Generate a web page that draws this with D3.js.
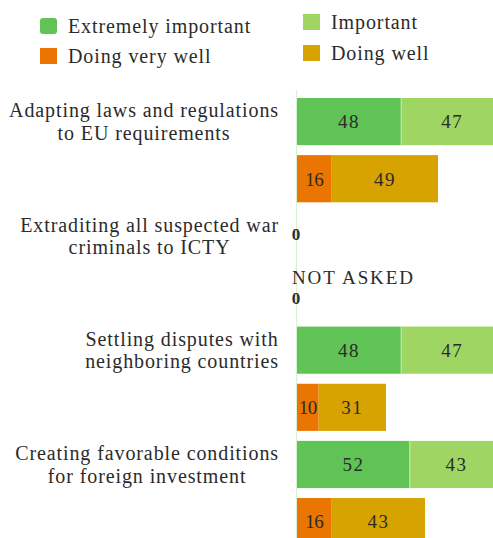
<!DOCTYPE html>
<html>
<head>
<meta charset="utf-8">
<script src="https://cdn.jsdelivr.net/npm/d3@7"></script>
<style>
  html, body { margin: 0; padding: 0; background: #fff; }
  svg { display: block; }
  text { font-family: "Liberation Serif", "DejaVu Serif", serif; fill: #2b2b2b; }
</style>
</head>
<body>
<svg id="chart" width="493" height="538"></svg>
<script>
// Survey items (each label is split into its display lines)
const categories = [
  ["Adapting laws and regulations", "to EU requirements"],
  ["Extraditing all suspected war", "criminals to ICTY"],
  ["Settling disputes with", "neighboring countries"],
  ["Creating favorable conditions", "for foreign investment"]
];
// Importance ratings (%)
const extremelyImportant = [48, 0, 48, 52];
const important          = [47, 0, 47, 43];
// Performance ratings (%)
const doingVeryWell = [16, 0, 10, 16];
const doingWell     = [49, 0, 31, 43];
// Items that were not part of the performance question
const notAsked = [false, true, false, false];

const legendItems = [
  { label: "Extremely important", color: "#60c355" },
  { label: "Important",           color: "#9fd663" },
  { label: "Doing very well",     color: "#ea7500" },
  { label: "Doing well",          color: "#d6a300" }
];
const colors = {
  extreme: "#60c355", important: "#9fd663",
  veryWell: "#ea7500", well: "#d6a300"
};

const svg = d3.select("#chart");
const W = 493, H = 538;

// Two bars per item: importance then performance
const rows = [];
categories.forEach((c, i) => {
  rows.push({ key: i + "-imp", cat: i, kind: "imp",
    segs: [{ v: extremelyImportant[i], c: colors.extreme }, { v: important[i], c: colors.important }] });
  rows.push({ key: i + "-perf", cat: i, kind: "perf",
    segs: [{ v: doingVeryWell[i], c: colors.veryWell }, { v: doingWell[i], c: colors.well }] });
});

const x = d3.scaleLinear().domain([0, 100]).range([297, 514]);
const y = d3.scaleBand()
  .domain(rows.map(r => r.key))
  .range([98, 98 + 8 * 57.15 - 10])
  .paddingInner(0.175)
  .paddingOuter(0);

// Baseline
svg.append("line")
  .attr("x1", x(0) - 0.5).attr("x2", x(0) - 0.5)
  .attr("y1", 90).attr("y2", H)
  .attr("stroke", "#d9f0d2").attr("stroke-width", 1.2);

// Stacked bars
rows.forEach(r => {
  let acc = 0;
  const g = svg.append("g");
  r.segs.forEach((s, j) => {
    const x0 = x(acc), x1 = x(acc + s.v);
    acc += s.v;
    if (s.v <= 0) return;
    g.append("rect")
      .attr("x", x0).attr("y", y(r.key))
      .attr("width", x1 - x0).attr("height", y.bandwidth())
      .attr("fill", s.c);
    if (j > 0 && r.kind === "imp") {
      g.append("line")
        .attr("x1", x0).attr("x2", x0)
        .attr("y1", y(r.key)).attr("y2", y(r.key) + y.bandwidth())
        .attr("stroke", "#c8ecb5").attr("stroke-width", 1);
    }
    g.append("text")
      .attr("x", (x0 + x1) / 2)
      .attr("y", y(r.key) + y.bandwidth() / 2)
      .attr("dy", "0.36em")
      .attr("text-anchor", "middle")
      .attr("font-size", 19)
      .attr("letter-spacing", s.v < 20 ? "-0.5px" : "1.5px")
      .text(s.v);
  });
  const total = d3.sum(r.segs, s => s.v);
  if (total === 0) {
    g.append("text")
      .attr("x", x(0) - 1)
      .attr("y", y(r.key) + y.bandwidth() / 2 + (r.kind === "imp" ? -2 : 5))
      .attr("dy", "0.36em")
      .attr("text-anchor", "middle")
      .attr("font-size", 17)
      .attr("font-weight", "bold")
      .text(total);
  }
});

// Note for items not asked about performance
categories.forEach((c, i) => {
  if (!notAsked[i]) return;
  svg.append("text")
    .attr("x", x(0) - 5)
    .attr("y", y(i + "-perf") + 8)
    .attr("dy", "0.36em")
    .attr("font-size", 19)
    .attr("letter-spacing", "1.9px")
    .text("NOT ASKED");
});

// Item labels: right-aligned block with centred lines
categories.forEach((lines, i) => {
  const cy = y(i + "-imp") + y.bandwidth() / 2;
  const g = svg.append("g");
  const lh = 22.5;
  const texts = lines.map((l, k) => g.append("text")
    .attr("y", cy + (k - (lines.length - 1) / 2) * lh)
    .attr("dy", "0.35em")
    .attr("font-size", 20)
    .attr("letter-spacing", "0.9px")
    .attr("text-anchor", "middle")
    .text(l));
  const maxW = d3.max(texts, t => t.node().getComputedTextLength());
  texts.forEach(t => t.attr("x", 279 - maxW / 2));
});

// Legend
const legendPos = [
  { x: 40, y: 26 }, { x: 303, y: 22 },
  { x: 40, y: 56 }, { x: 303, y: 53 }
];
legendItems.forEach((it, k) => {
  const p = legendPos[k];
  svg.append("rect")
    .attr("x", p.x).attr("y", p.y - 8)
    .attr("width", 17).attr("height", 16)
    .attr("rx", k === 0 ? 3 : 0)
    .attr("fill", it.color);
  svg.append("text")
    .attr("x", p.x + 28).attr("y", p.y)
    .attr("dy", "0.35em")
    .attr("font-size", 20)
    .attr("letter-spacing", "0.9px")
    .text(it.label);
});
</script>
</body>
</html>
